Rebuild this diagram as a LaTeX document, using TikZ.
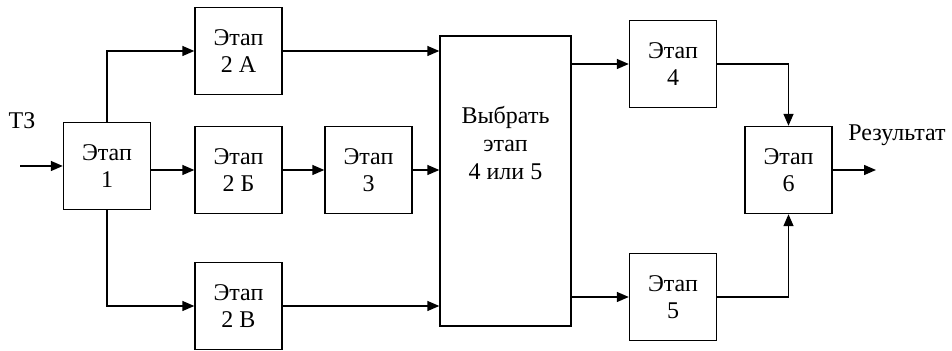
\documentclass[tikz,border=0pt]{standalone}
\usepackage{fontspec}
\setmainfont{Liberation Serif}
\usetikzlibrary{arrows.meta}

\begin{document}
\begin{tikzpicture}[
    x=0.5pt, y=-0.5pt,
    every node/.style={font=\fontsize{12}{13.8}\selectfont},
    stage/.style={draw,line width=0.7pt,minimum width=43.5pt,minimum height=43.5pt,align=center,inner sep=1pt},
    link/.style={draw,line width=0.7pt,-{Triangle[length=6pt,width=5pt]}}
]
\useasboundingbox (0,0) rectangle (952,351);
\node[stage] (s1) at (107,166) {Этап\\1};
\node[stage] (s2a) at (238.5,51) {Этап\\2 А};
\node[stage] (s2b) at (238.5,170) {Этап\\2 Б};
\node[stage] (s2v) at (238.5,306) {Этап\\2 В};
\node[stage] (s3) at (368.5,170) {Этап\\3};
\node[stage,minimum width=65.5pt,minimum height=145pt,
    label={[align=center,yshift=19pt]center:Выбрать\\этап\\4 или 5}] (choose) at (505.5,181) {};
\node[stage] (s4) at (673,64) {Этап\\4};
\node[stage] (s5) at (673,297) {Этап\\5};
\node[stage] (s6) at (788.5,170) {Этап\\6};
\node (tz) at (22,121) {ТЗ};
\node (res) at (897,135) {Результат};
\coordinate (in) at (20,166);
\coordinate (out) at (876,170);
\draw[link] (in) -- (s1.west);
\draw[link] (s1.north) |- (s2a.west);
\draw[link] (s1.east |- s2b.west) -- (s2b.west);
\draw[link] (s1.south) |- (s2v.west);
\draw[link] (s2b) -- (s3);
\draw[link] (s2a.east) -- (s2a.east -| choose.west);
\draw[link] (s3.east) -- (s3.east -| choose.west);
\draw[link] (s2v.east) -- (s2v.east -| choose.west);
\draw[link] (s4.west -| choose.east) -- (s4.west);
\draw[link] (s5.west -| choose.east) -- (s5.west);
\draw[link] (s4.east) -| (s6.north);
\draw[link] (s5.east) -| (s6.south);
\draw[link] (s6.east) -- (out);
\end{tikzpicture}
\end{document}
